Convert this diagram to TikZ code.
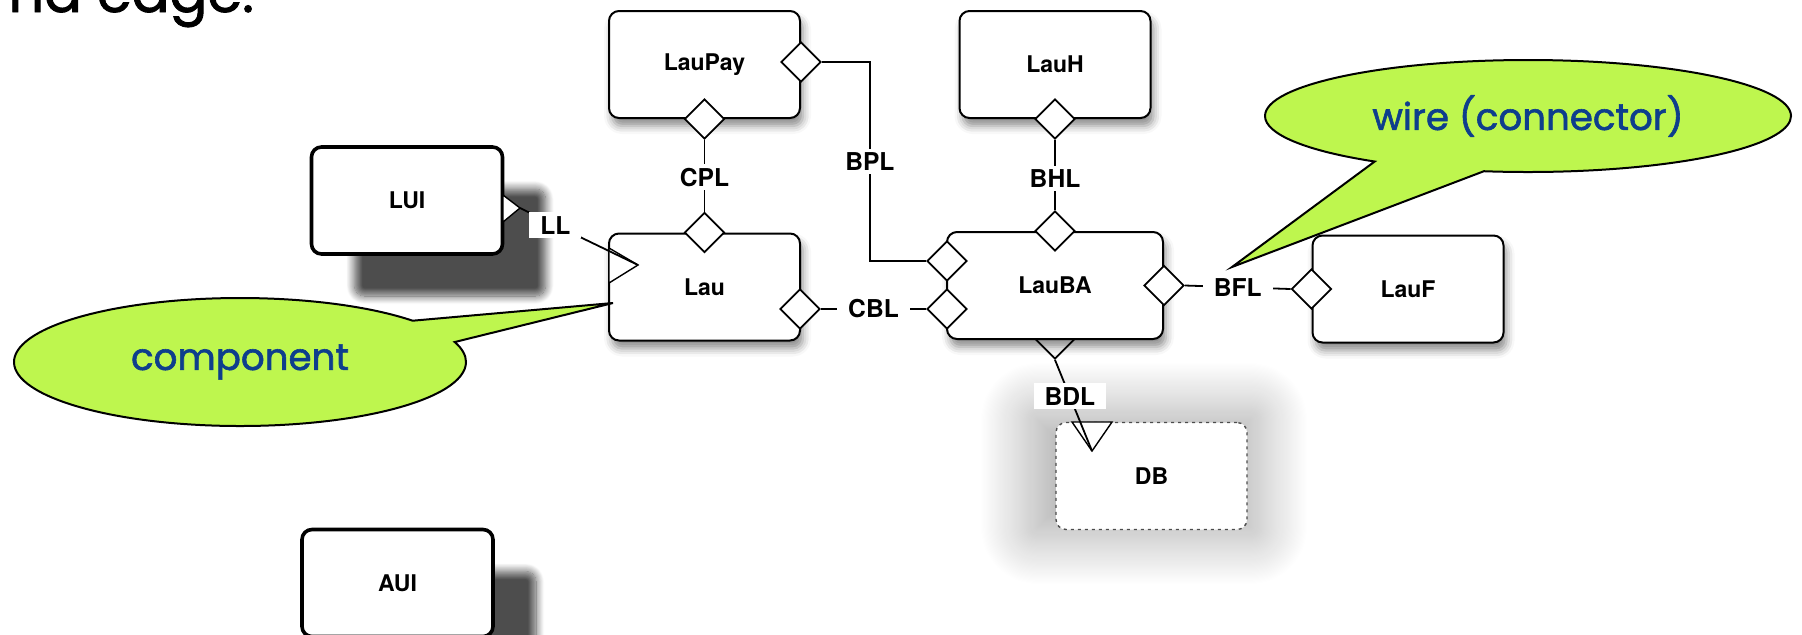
\documentclass[tikz,border=0pt]{standalone}
\usepackage{fontspec}
\setsansfont{TeX Gyre Heros}
\newfontfamily\callfont{Poppins}[FakeBold=1.6]
\usetikzlibrary{shapes.geometric,shapes.callouts,shadows.blur}

\definecolor{notegreen}{RGB}{190,246,78}
\definecolor{noteblue}{RGB}{14,62,140}

\tikzset{
  compbase/.style={draw, rounded corners=5pt, fill=white, inner sep=0pt,
    minimum width=95.5pt, minimum height=53.5pt,
    font=\sffamily\bfseries\fontsize{11.5}{13}\selectfont},
  comp/.style={compbase, line width=1pt,
    blur shadow={shadow xshift=1.5pt, shadow yshift=-4pt, shadow blur radius=4pt, shadow opacity=45}},
  uicomp/.style={compbase, line width=1.8pt,
    blur shadow={shadow xshift=21.5pt, shadow yshift=-21pt, shadow blur radius=4pt, shadow blur steps=12, shadow opacity=70}},
  dbcomp/.style={compbase, draw=black!70, line width=0.7pt, dash pattern=on 1.5pt off 2pt,
    blur shadow={shadow xshift=-3pt, shadow yshift=1pt, shadow scale=1.25, shadow blur radius=18pt, shadow blur steps=40, shadow opacity=30}},
  port/.style={diamond, draw, fill=white, line width=0.9pt, inner sep=0pt,
    minimum width=20pt, minimum height=20pt},
  reqport/.style={draw, fill=white, line width=0.7pt},
  conn/.style={line width=0.9pt},
  linklabel/.style={fill=white, inner xsep=5.5pt, inner ysep=2pt,
    font=\sffamily\bfseries\fontsize{12.3}{14}\selectfont},
  note/.style={ellipse callout, draw, line width=1pt, fill=notegreen, text=noteblue,
    inner sep=0pt, font=\callfont\fontsize{18.6}{22}\selectfont}
}

\begin{document}
\begin{tikzpicture}[x=0.5pt, y=-0.5pt]
    \useasboundingbox (0,0) rectangle (1802,634);

    \node[anchor=base west, inner sep=0pt, font=\callfont\fontsize{28}{34}\selectfont] (title) at (8,12) {nd edge.};

    \node[dbcomp] (DB) at (1151.5,476) {DB};
    \node[port] (pBAS) at (1055,339) {};

    % componentes
    \node[comp] (LauPay) at (704.5,64.5) {LauPay};
    \node[comp] (LauH) at (1055,64.5) {LauH};
    \node[uicomp] (LUI) at (407,200.5) {LUI};
    \node[comp] (Lau) at (704.5,287) {Lau};
    \node[comp, minimum width=108pt] (LauBA) at (1055,285.5) {LauBA};
    \node[comp] (LauF) at (1408,289) {LauF};
    \node[uicomp] (AUI) at (397.5,583) {AUI};

    % portas
    \node[port] (pPayS) at (LauPay.south) {};
    \node[port] (pPayE) at (801,62) {};
    \node[port] (pHS) at (LauH.south) {};
    \node[port] (pLauN) at (Lau.north) {};
    \node[port] (pLauE) at (800,309) {};
    \node[port] (pBAN) at (LauBA.north) {};
    \node[port] (pBAnw) at (947,261) {};
    \node[port] (pBAsw) at (947,309) {};
    \node[port] (pBAE) at (LauBA.east) {};
    \node[port] (pFW) at (LauF.west) {};

    \draw[reqport] (503,195) -- (520,208) coordinate (tLUI) -- (503,222) -- cycle;
    \draw[reqport] (609,248) -- (638,265) coordinate (tLau) -- (609,283) -- cycle;
    \draw[reqport] (1072,422) -- (1092,451) coordinate (tDB) -- (1112,422) -- cycle;

    % ligacoes
    \draw[conn] (pPayS.south) -- (pLauN.north) node[linklabel, pos=0.52] (CPL) {CPL};
    \draw[conn] (pPayE.east) -- ++(48,0) |- (pBAnw.west) node[linklabel, pos=0.25] (BPL) {BPL};
    \draw[conn] (pHS.south) -- (pBAN.north) node[linklabel, pos=0.55] (BHL) {BHL};
    \draw[conn] (pLauE.east) -- (pBAsw.west) node[linklabel, midway] (CBL) {CBL};
    \draw[conn] (pBAE.east) -- (pFW.west) node[linklabel, midway] (BFL) {BFL};
    \draw[conn] (tLUI) -- (tLau) node[linklabel, pos=0.3] (LL) {LL};
    \draw[conn] (pBAS.south) -- (tDB) node[linklabel, pos=0.4] (BDL) {BDL};

    \coordinate (compTip) at (613,303);
    \coordinate (wireTip) at (1232,267);
    \node[note, minimum width=226pt, minimum height=64pt, callout absolute pointer={(compTip)}, callout pointer arc=22] (compNote) at (240,362) {\raisebox{-3pt}{component}};
    \node[note, minimum width=263pt, minimum height=56pt, callout absolute pointer={(wireTip)}, callout pointer arc=26] (wireNote) at (1528,116) {\raisebox{1.5pt}{wire (connector)}};

\end{tikzpicture}
\end{document}
